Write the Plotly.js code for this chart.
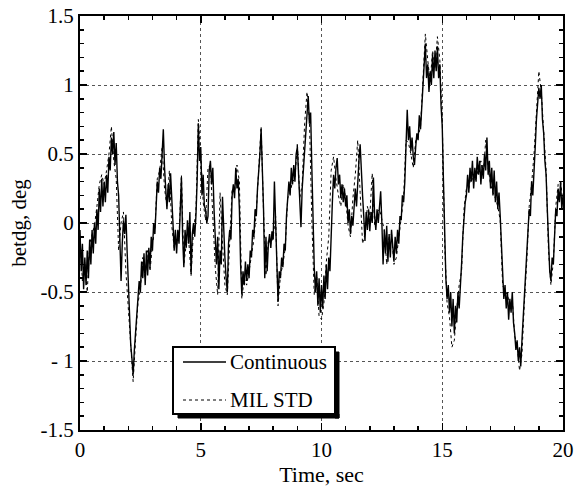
<!DOCTYPE html>
<html>
<head>
<meta charset="utf-8">
<script src="https://cdn.plot.ly/plotly-3.0.1.min.js"></script>
<style>html,body{margin:0;padding:0;background:#fff;}#chart{width:577px;height:491px;}</style>
</head>
<body>
<div id="chart"></div>
<script>
const continuousY = [
  -0.05,-0.35,-0.15,-0.48,-0.25,-0.45,-0.20,-0.40,-0.12,-0.30,-0.05,-0.22,0.00,-0.15,0.10,-0.05,0.25,0.08,0.32,0.12,
  0.30,0.15,0.35,0.22,0.48,0.38,0.62,0.50,0.66,0.42,0.58,0.30,0.20,-0.10,-0.42,-0.15,0.02,-0.08,0.06,-0.20,
  -0.45,-0.70,-0.88,-0.98,-1.10,-0.92,-0.80,-0.65,-0.55,-0.42,-0.50,-0.28,-0.40,-0.22,-0.45,-0.20,-0.38,-0.18,-0.32,-0.10,
  -0.20,0.00,-0.08,0.15,0.30,0.22,0.40,0.32,0.50,0.68,0.40,0.25,0.10,0.28,0.15,0.36,0.10,0.00,-0.20,-0.05,
  -0.22,-0.05,-0.15,0.05,0.33,-0.10,-0.32,-0.05,-0.18,0.02,-0.15,0.08,-0.37,-0.08,0.00,-0.10,0.05,0.30,0.72,0.45,
  0.55,0.20,0.35,0.12,0.10,0.00,0.05,0.38,0.45,0.28,0.40,0.10,-0.15,-0.30,-0.10,-0.48,-0.20,-0.30,0.19,-0.10,
  -0.25,-0.40,-0.50,-0.15,-0.05,-0.12,0.20,0.28,0.18,0.40,0.25,0.32,0.10,-0.30,-0.52,-0.35,-0.45,-0.28,-0.42,-0.30,
  -0.40,-0.20,-0.25,-0.05,-0.10,0.10,0.05,0.25,0.36,0.50,0.68,0.40,0.10,-0.40,-0.10,-0.35,-0.15,-0.08,-0.18,-0.06,
  -0.12,0.30,0.05,-0.25,-0.57,-0.35,-0.40,-0.25,-0.32,-0.15,-0.20,0.05,0.15,0.30,0.20,0.40,0.28,0.42,0.30,0.50,
  0.55,0.35,0.20,-0.03,0.25,0.40,0.55,0.70,0.85,0.92,0.72,0.80,0.40,0.00,-0.32,-0.50,-0.35,-0.60,-0.40,-0.65,
  -0.45,-0.62,-0.38,-0.55,-0.30,-0.48,-0.25,-0.35,-0.05,0.15,0.35,0.25,0.40,0.47,0.28,0.35,0.18,0.28,0.15,0.25,
  0.12,0.20,0.00,0.10,-0.08,0.05,-0.02,0.15,0.25,0.12,0.32,0.45,0.57,0.35,0.20,0.05,-0.13,0.08,-0.05,0.10,
  -0.06,0.08,0.00,0.33,0.05,-0.05,0.10,0.00,0.12,0.23,0.00,-0.30,-0.05,-0.22,-0.02,-0.28,-0.08,-0.25,-0.05,-0.20,
  -0.28,-0.10,-0.22,-0.05,-0.15,0.05,0.02,0.20,0.15,0.30,0.55,0.82,0.60,0.70,0.52,0.62,0.48,0.42,0.55,0.65,
  0.60,0.78,0.68,0.85,1.00,1.20,1.30,1.05,1.15,0.95,1.10,1.00,1.22,1.05,1.25,1.10,1.28,1.05,1.15,0.85,
  0.70,0.30,-0.10,-0.40,-0.55,-0.45,-0.65,-0.50,-0.75,-0.55,-0.80,-0.60,-0.72,-0.50,-0.62,-0.40,-0.30,-0.10,0.05,0.15,
  0.20,0.35,0.22,0.40,0.30,0.45,0.25,0.40,0.30,0.48,0.35,0.45,0.28,0.42,0.32,0.50,0.38,0.62,0.35,0.45,
  0.25,0.40,0.20,0.38,0.15,0.30,0.10,0.22,0.05,-0.15,-0.40,-0.55,-0.45,-0.62,-0.50,-0.70,-0.55,-0.65,-0.50,-0.72,
  -0.80,-0.92,-0.85,-1.00,-0.90,-1.04,-0.85,-0.70,-0.55,-0.40,-0.25,-0.05,0.10,0.05,0.30,0.20,0.45,0.55,0.75,0.85,
  0.98,0.90,1.00,0.75,0.65,0.45,0.35,0.10,-0.15,-0.35,-0.42,-0.25,-0.30,-0.05,0.10,0.05,0.25,0.15,0.30,0.10,
  0.20
];
const milStdY = [
  -0.10,-0.42,-0.28,-0.50,-0.15,-0.08,-0.02,0.12,0.28,0.35,
  0.28,0.38,0.50,0.70,0.45,0.32,-0.20,0.00,0.08,-0.35,
  -0.60,-0.92,-1.15,-0.85,-0.58,-0.48,-0.25,-0.40,-0.20,-0.35,
  -0.15,-0.05,0.32,0.38,0.55,0.25,0.12,0.38,-0.02,-0.18,
  -0.12,-0.10,0.35,-0.30,-0.15,-0.12,-0.38,-0.05,0.08,0.75,
  0.50,0.15,0.02,0.40,0.42,0.05,-0.32,-0.52,0.22,-0.15,
  -0.45,-0.52,-0.08,0.25,0.22,0.42,0.30,-0.55,-0.40,-0.45,
  -0.35,-0.22,-0.12,0.08,0.38,0.70,0.08,-0.38,-0.12,-0.15,
  -0.10,0.05,-0.60,-0.38,-0.30,-0.18,0.18,0.22,0.30,0.32,
  0.58,0.18,0.28,0.72,0.95,0.75,0.02,-0.52,-0.38,-0.68,
  -0.70,-0.58,-0.28,-0.10,0.38,0.48,0.32,0.20,0.12,0.28,
  0.18,-0.02,-0.10,0.18,0.35,0.60,0.22,-0.15,-0.08,0.12,
  0.05,0.36,-0.02,0.08,0.10,0.02,-0.05,-0.30,-0.10,-0.08,
  -0.30,-0.25,-0.12,0.05,0.18,0.60,0.58,0.50,0.40,0.60,
  0.62,0.70,1.05,1.37,1.18,1.02,1.25,1.12,1.35,1.18,
  0.75,-0.15,-0.58,-0.68,-0.90,-0.85,-0.62,-0.45,-0.35,0.10,
  0.25,0.25,0.35,0.30,0.32,0.40,0.45,0.35,0.60,0.40,
  0.28,0.22,0.18,0.12,0.02,-0.45,-0.50,-0.52,-0.60,-0.55,
  -0.82,-0.88,-1.07,-0.95,-0.58,-0.28,0.12,0.28,0.50,0.80,
  1.10,0.95,0.70,0.38,-0.20,-0.45,-0.28,0.12,0.28,0.30,0.15
];
const seriesNames = ["Continuous", "MIL STD"];
const xTickVals = [0, 5, 10, 15, 20];
const xTickText = ["0", "5", "10", "15", "20"];
const yTickVals = [-1.5, -1, -0.5, 0, 0.5, 1, 1.5];
const yTickText = ["-1.5", "- 1", "-0.5", "0", "0.5", "1", "1.5"];
const xTitle = "Time, sec";
const yTitle = "betdg, deg";

const FONT = "Liberation Serif, Times New Roman, serif";
const W = 577, H = 491;
const M = {l: 80, r: 14, t: 16, b: 61};
const PW = W - M.l - M.r, PH = H - M.t - M.b;
// pixel -> paper helpers (for the boxed legend drawn in the plot corner)
const pxX = function (x) { return (x - M.l) / PW; };
const pxY = function (y) { return (H - M.b - y) / PH; };

const traces = [
  {y: continuousY, x0: 0, dx: 0.05, type: "scatter", mode: "lines", name: seriesNames[0],
   line: {color: "#000", width: 1.4}},
  {y: milStdY, x0: 0, dx: 0.1, type: "scatter", mode: "lines", name: seriesNames[1],
   line: {color: "#000", width: 1, dash: "3px,3px"}}
];

const axisCommon = {
  showline: true, linecolor: "#000", linewidth: 2, mirror: "ticks",
  ticks: "inside", ticklen: 7, tickwidth: 1.5, tickcolor: "#000",
  showgrid: true, gridcolor: "#555", gridwidth: 1, griddash: "dot",
  zeroline: false, tickfont: {family: FONT, size: 21, color: "#000"},
  fixedrange: true
};

// legend box (boxed, with drop shadow) drawn with shapes + text annotations
const box = {x0: 173, x1: 335, y0: 347, y1: 414};
const legendShapes = [
  // white box with black frame
  {type: "rect", xref: "paper", yref: "paper", layer: "above",
   x0: pxX(box.x0), x1: pxX(box.x1), y0: pxY(box.y0), y1: pxY(box.y1),
   fillcolor: "#ffffff", line: {color: "#000000", width: 2}},
  // drop shadow: right strip and bottom strip
  {type: "rect", xref: "paper", yref: "paper", layer: "above",
   x0: pxX(box.x1), x1: pxX(box.x1 + 4), y0: pxY(box.y0 + 5), y1: pxY(box.y1 + 4),
   fillcolor: "#000000", line: {color: "#000000", width: 1}},
  {type: "rect", xref: "paper", yref: "paper", layer: "above",
   x0: pxX(box.x0 + 5), x1: pxX(box.x1 + 4), y0: pxY(box.y1), y1: pxY(box.y1 + 4),
   fillcolor: "#000000", line: {color: "#000000", width: 1}},
  {type: "line", xref: "paper", yref: "paper", layer: "above",
   x0: pxX(183), x1: pxX(226), y0: pxY(362), y1: pxY(362), line: {color: "#000", width: 1.3}},
  {type: "line", xref: "paper", yref: "paper", layer: "above",
   x0: pxX(183), x1: pxX(226), y0: pxY(400), y1: pxY(400), line: {color: "#000", width: 1, dash: "3px,3px"}}
];
const legendAnn = [
  {xref: "paper", yref: "paper", x: pxX(228), y: pxY(362), xanchor: "left", yanchor: "middle",
   text: seriesNames[0], showarrow: false, font: {family: FONT, size: 21, color: "#000"}},
  {xref: "paper", yref: "paper", x: pxX(228), y: pxY(400), xanchor: "left", yanchor: "middle",
   text: seriesNames[1], showarrow: false, font: {family: FONT, size: 21, color: "#000"}}
];

const layout = {
  width: W, height: H,
  margin: M,
  paper_bgcolor: "#fff", plot_bgcolor: "#fff",
  showlegend: false,
  xaxis: Object.assign({}, axisCommon, {
    range: [0, 20], tickmode: "array", tickvals: xTickVals, ticktext: xTickText,
    minor: {dtick: 1, ticklen: 4, tickwidth: 1.5, tickcolor: "#000", ticks: "inside", showgrid: false},
    title: {text: xTitle, font: {family: FONT, size: 22, color: "#000"}, standoff: 2}
  }),
  yaxis: Object.assign({}, axisCommon, {
    range: [-1.5, 1.5], tickmode: "array", tickvals: yTickVals, ticktext: yTickText,
    minor: {dtick: 0.1, ticklen: 4, tickwidth: 1.5, tickcolor: "#000", ticks: "inside", showgrid: false},
    title: {text: yTitle, font: {family: FONT, size: 21, color: "#000"}, standoff: 8}
  }),
  shapes: legendShapes,
  annotations: legendAnn
};

Plotly.newPlot("chart", traces, layout, {displayModeBar: false, staticPlot: true});
</script>
</body>
</html>
